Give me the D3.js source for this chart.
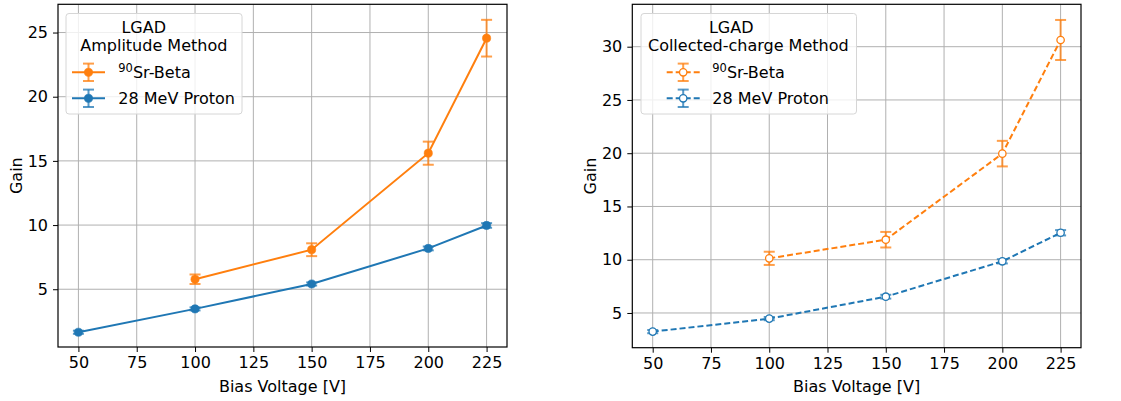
<!DOCTYPE html>
<html>
<head>
<meta charset="utf-8">
<script src="https://cdn.jsdelivr.net/npm/d3@7"></script>
<style>
  html, body { margin: 0; padding: 0; background: #fff; }
  svg { display: block; font-family: "DejaVu Sans", sans-serif; }
</style>
</head>
<body>
<svg id="chart" width="1121" height="401"></svg>
<script>
// Bias voltages [V]
const voltages = [50, 100, 150, 200, 225];
const xTicks = [50, 75, 100, 125, 150, 175, 200, 225];

// Amplitude method gains
const ampBetaV = [100, 150, 200, 225];
const ampBeta = [5.78, 8.08, 15.6, 24.56];
const ampBetaErr = [0.37, 0.5, 0.9, 1.43];
const ampProton = [1.65, 3.47, 5.41, 8.18, 9.97];
const ampProtonErr = [0.12, 0.12, 0.12, 0.15, 0.18];
const ampYTicks = [5, 10, 15, 20, 25];

// Collected-charge method gains
const ccBetaV = [100, 150, 200, 225];
const ccBeta = [10.13, 11.88, 19.96, 30.63];
const ccBetaErr = [0.62, 0.73, 1.2, 1.88];
const ccProton = [3.25, 4.47, 6.53, 9.85, 12.53];
const ccProtonErr = [0.15, 0.15, 0.18, 0.2, 0.25];
const ccYTicks = [5, 10, 15, 20, 25, 30];

const ORANGE = "#ff7f0e";
const BLUE = "#1f77b4";
const FS = 16;

const svg = d3.select("#chart");

function marker(sel, cfg, color) {
  return sel.attr("r", cfg.hollow ? 3.7 : 4.1)
    .attr("fill", cfg.hollow ? "#fff" : color)
    .attr("stroke", color).attr("stroke-width", cfg.hollow ? 1.3 : 0.6);
}

function drawPanel(cfg) {
  const g = svg.append("g");
  const x = d3.scaleLinear().domain([41.25, 233.75]).range([cfg.left, cfg.right]);
  const y = d3.scaleLinear().domain(cfg.yDomain).range([cfg.bottom, cfg.top]);

  // grid
  g.append("g").selectAll("line").data(xTicks).join("line")
    .attr("x1", d => x(d)).attr("x2", d => x(d))
    .attr("y1", cfg.top).attr("y2", cfg.bottom)
    .attr("stroke", "#b0b0b0").attr("stroke-width", 1);
  g.append("g").selectAll("line").data(cfg.yTicks).join("line")
    .attr("x1", cfg.left).attr("x2", cfg.right)
    .attr("y1", d => y(d)).attr("y2", d => y(d))
    .attr("stroke", "#b0b0b0").attr("stroke-width", 1);

  // axes
  const xAxis = d3.axisBottom(x).tickValues(xTicks).tickSize(5).tickPadding(5).tickFormat(d3.format("d"));
  const yAxis = d3.axisLeft(y).tickValues(cfg.yTicks).tickSize(5).tickPadding(5).tickFormat(d3.format("d"));
  const gx = g.append("g").attr("transform", `translate(0,${cfg.bottom})`).call(xAxis);
  const gy = g.append("g").attr("transform", `translate(${cfg.left},0)`).call(yAxis);
  [gx, gy].forEach(a => {
    a.select(".domain").remove();
    a.selectAll("text").attr("font-size", FS).attr("fill", "#000").attr("font-family", "DejaVu Sans");
    a.selectAll("line").attr("stroke", "#000");
  });

  // series
  const series = [
    { xs: cfg.betaV, ys: cfg.beta, err: cfg.betaErr, color: ORANGE },
    { xs: voltages, ys: cfg.proton, err: cfg.protonErr, color: BLUE }
  ];
  series.forEach(s => {
    const pts = s.xs.map((v, i) => ({ x: v, y: s.ys[i], e: s.err[i] }));
    const line = d3.line().x(d => x(d.x)).y(d => y(d.y));
    g.append("path").datum(pts).attr("d", line)
      .attr("fill", "none").attr("stroke", s.color).attr("stroke-width", 2)
      .attr("stroke-dasharray", cfg.dashed ? "6,3" : null);
    const eb = g.append("g").attr("stroke", s.color).attr("stroke-width", 2).attr("stroke-opacity", 0.75);
    pts.forEach(p => {
      const cx = x(p.x), y1 = y(p.y - p.e), y2 = y(p.y + p.e);
      eb.append("line").attr("x1", cx).attr("x2", cx).attr("y1", y1).attr("y2", y2);
      eb.append("line").attr("x1", cx - 5.5).attr("x2", cx + 5.5).attr("y1", y1).attr("y2", y1);
      eb.append("line").attr("x1", cx - 5.5).attr("x2", cx + 5.5).attr("y1", y2).attr("y2", y2);
    });
    marker(g.append("g").selectAll("circle").data(pts).join("circle")
      .attr("cx", d => x(d.x)).attr("cy", d => y(d.y)), cfg, s.color);
  });

  // frame
  g.append("rect").attr("x", cfg.left).attr("y", cfg.top)
    .attr("width", cfg.right - cfg.left).attr("height", cfg.bottom - cfg.top)
    .attr("fill", "none").attr("stroke", "#000").attr("stroke-width", 1.2);

  // axis labels
  g.append("text").attr("x", (cfg.left + cfg.right) / 2).attr("y", 392)
    .attr("text-anchor", "middle").attr("font-size", FS).text("Bias Voltage [V]");
  g.append("text").attr("transform", `translate(${cfg.left - 36},${(cfg.top + cfg.bottom) / 2}) rotate(-90)`)
    .attr("text-anchor", "middle").attr("font-size", FS).text("Gain");

  // legend
  const L = cfg.legend;
  const lg = g.append("g");
  lg.append("rect").attr("x", L.x).attr("y", 13.5).attr("width", L.w).attr("height", 100.5)
    .attr("rx", 3).attr("fill", "#fff").attr("fill-opacity", 0.8)
    .attr("stroke", "#d6d6d6").attr("stroke-width", 1);
  lg.append("text").attr("x", L.title1X).attr("y", 33.3).attr("text-anchor", "middle").attr("font-size", FS).text("LGAD");
  lg.append("text").attr("x", L.title2X).attr("y", 51.3).attr("text-anchor", "middle").attr("font-size", FS).text(cfg.method);
  const entries = [
    { color: ORANGE, y: 72.3, sup: "90", label: "Sr-Beta" },
    { color: BLUE, y: 98.3, sup: null, label: "28 MeV Proton" }
  ];
  entries.forEach(e => {
    const hx1 = L.hx, hx2 = L.hx + 33, hm = L.hx + 16.5;
    lg.append("line").attr("x1", hx1).attr("x2", hx2).attr("y1", e.y).attr("y2", e.y)
      .attr("stroke", e.color).attr("stroke-width", 2).attr("stroke-dasharray", cfg.dashed ? "6,3" : null);
    const eb = lg.append("g").attr("stroke", e.color).attr("stroke-width", 2).attr("stroke-opacity", 0.75);
    eb.append("line").attr("x1", hm).attr("x2", hm).attr("y1", e.y - 8.7).attr("y2", e.y + 8.7);
    eb.append("line").attr("x1", hm - 5.5).attr("x2", hm + 5.5).attr("y1", e.y - 8.7).attr("y2", e.y - 8.7);
    eb.append("line").attr("x1", hm - 5.5).attr("x2", hm + 5.5).attr("y1", e.y + 8.7).attr("y2", e.y + 8.7);
    marker(lg.append("circle").attr("cx", hm).attr("cy", e.y), cfg, e.color);
    const t = lg.append("text").attr("x", L.tx).attr("y", e.y + 6).attr("font-size", FS);
    if (e.sup) {
      t.append("tspan").attr("font-size", 11.5).attr("dy", -6).text(e.sup);
      t.append("tspan").attr("dy", 6).text(e.label);
    } else {
      t.text(e.label);
    }
  });
}

drawPanel({
  left: 58, right: 507, top: 4.3, bottom: 347,
  yDomain: [0.5, 27.2], yTicks: ampYTicks,
  betaV: ampBetaV, beta: ampBeta, betaErr: ampBetaErr,
  proton: ampProton, protonErr: ampProtonErr,
  dashed: false, hollow: false,
  method: "Amplitude Method",
  legend: { x: 66, w: 176, title1X: 143.7, title2X: 153.8, hx: 72, tx: 118.3 }
});

drawPanel({
  left: 632.3, right: 1081, top: 4.3, bottom: 347.7,
  yDomain: [1.74, 33.98], yTicks: ccYTicks,
  betaV: ccBetaV, beta: ccBeta, betaErr: ccBetaErr,
  proton: ccProton, protonErr: ccProtonErr,
  dashed: true, hollow: true,
  method: "Collected-charge Method",
  legend: { x: 641, w: 215.5, title1X: 731.2, title2X: 748.3, hx: 666.7, tx: 712.3 }
});
</script>
</body>
</html>
